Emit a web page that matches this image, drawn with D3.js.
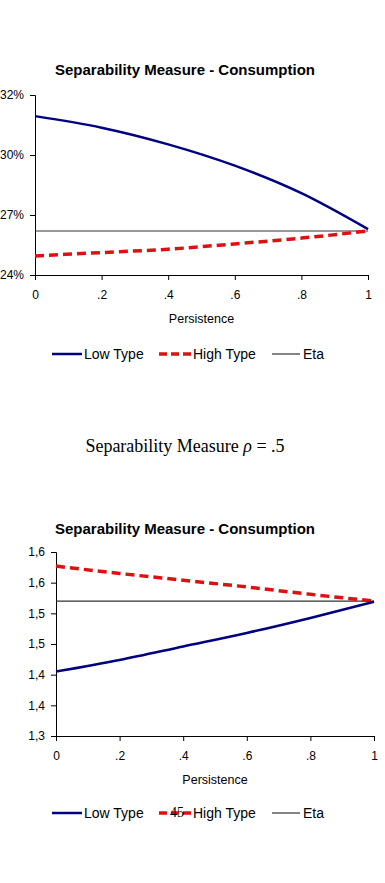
<!DOCTYPE html>
<html>
<head>
<meta charset="utf-8">
<script src="https://cdn.jsdelivr.net/npm/d3@7"></script>
<style>
  body { margin: 0; background: #fff; }
  svg { display: block; }
  .tick text { font-family: "Liberation Sans", Arial, sans-serif; font-size: 12px; fill: #000; }
</style>
</head>
<body>
<div id="chart"></div>
<script>
// Persistence grid shared by both panels
const persistence = [0, 0.2, 0.4, 0.6, 0.8, 1];
const xTickLabels = ["0", ".2", ".4", ".6", ".8", "1"];

// Panel 1 (percent)
const lowType1 = [0.3145, 0.3093, 0.3018, 0.2922, 0.2798, 0.2636];
const highType1 = [0.2516, 0.2531, 0.2546, 0.2570, 0.2596, 0.2628];
const eta1 = 0.2628;
const yTicks1 = [0.243, 0.270, 0.297, 0.324];
const yTickLabels1 = ["24%", "27%", "30%", "32%"];

// Panel 2 (levels)
const lowType2 = [1.405, 1.424, 1.446, 1.468, 1.4925, 1.519];
const highType2 = [1.577, 1.565, 1.554, 1.543, 1.531, 1.520];
const eta2 = 1.520;
const yTicks2 = [1.30, 1.35, 1.40, 1.45, 1.50, 1.55, 1.60];
const yTickLabels2 = ["1,3", "1,4", "1,4", "1,5", "1,5", "1,6", "1,6"];

const W = 385, H = 883;
const svg = d3.select("#chart").append("svg")
  .attr("width", W).attr("height", H);

const sans = '"Liberation Sans", Arial, sans-serif';
const serif = '"Liberation Serif", "DejaVu Serif", serif';

function drawPanel(opt) {
  const g = svg.append("g");
  const x = d3.scaleLinear().domain([0, 1]).range([opt.left, opt.right]);
  const y = d3.scaleLinear().domain(d3.extent(opt.yTicks)).range([opt.bottom, opt.top]);

  // title
  g.append("text")
    .attr("x", 185).attr("y", opt.titleY)
    .attr("text-anchor", "middle")
    .style("font-family", sans).style("font-size", "15px").style("font-weight", "bold")
    .text("Separability Measure - Consumption");

  // axes
  g.append("g")
    .attr("transform", `translate(0,${opt.bottom})`)
    .call(d3.axisBottom(x).tickValues(persistence).tickSize(5).tickPadding(10)
      .tickFormat((d, i) => xTickLabels[i]))
    .call(a => a.select(".domain").attr("stroke", "#000"));

  g.append("g")
    .attr("transform", `translate(${opt.left},0)`)
    .call(d3.axisLeft(y).tickValues(opt.yTicks).tickSize(5).tickPadding(6)
      .tickFormat((d, i) => opt.yLabels[i]))
    .call(a => a.select(".domain").attr("stroke", "#000"));

  // eta reference
  g.append("line")
    .attr("x1", x(0)).attr("x2", x(1))
    .attr("y1", y(opt.eta)).attr("y2", y(opt.eta))
    .attr("stroke", "#333").attr("stroke-width", 1.2);

  const line = d3.line().curve(d3.curveMonotoneX)
    .x((d, i) => x(persistence[i])).y(d => y(d));

  g.append("path").datum(opt.high)
    .attr("d", line).attr("fill", "none")
    .attr("stroke", "#dd1111").attr("stroke-width", 3.5)
    .attr("stroke-dasharray", "9,5");

  g.append("path").datum(opt.low)
    .attr("d", line).attr("fill", "none")
    .attr("stroke", "#000080").attr("stroke-width", 2.5);

  // x label
  g.append("text")
    .attr("x", (opt.left + opt.right) / 2).attr("y", opt.bottom + 48)
    .attr("text-anchor", "middle")
    .style("font-family", sans).style("font-size", "12.5px")
    .text("Persistence");

  // legend
  const ly = opt.legendY;
  const leg = g.append("g").style("font-family", sans).style("font-size", "14px");
  leg.append("line").attr("x1", 52).attr("x2", 82).attr("y1", ly).attr("y2", ly)
    .attr("stroke", "#000080").attr("stroke-width", 2.5);
  leg.append("text").attr("x", 84).attr("y", ly + 5).text("Low Type");
  leg.append("line").attr("x1", 159).attr("x2", 191).attr("y1", ly).attr("y2", ly)
    .attr("stroke", "#dd1111").attr("stroke-width", 3.5).attr("stroke-dasharray", "8,4");
  leg.append("text").attr("x", 193).attr("y", ly + 5).text("High Type");
  leg.append("line").attr("x1", 272).attr("x2", 300).attr("y1", ly).attr("y2", ly)
    .attr("stroke", "#333").attr("stroke-width", 1.2);
  leg.append("text").attr("x", 303).attr("y", ly + 5).text("Eta");
}

drawPanel({
  left: 35, right: 368, top: 95, bottom: 275, titleY: 75,
  yTicks: yTicks1, yLabels: yTickLabels1,
  low: lowType1, high: highType1, eta: eta1, legendY: 354
});

drawPanel({
  left: 56, right: 374, top: 552, bottom: 736, titleY: 534,
  yTicks: yTicks2, yLabels: yTickLabels2,
  low: lowType2, high: highType2, eta: eta2, legendY: 813
});

// caption between panels
const cap = svg.append("text")
  .attr("x", 185).attr("y", 452)
  .attr("text-anchor", "middle")
  .style("font-family", serif).style("font-size", "18px");
cap.append("tspan").text("Separability Measure ");
cap.append("tspan").style("font-style", "italic").text("ρ");
cap.append("tspan").text(" = .5");

// page number
svg.append("text")
  .attr("x", 177).attr("y", 817)
  .attr("text-anchor", "middle")
  .style("font-family", serif).style("font-size", "14px")
  .text("45");
</script>
</body>
</html>
